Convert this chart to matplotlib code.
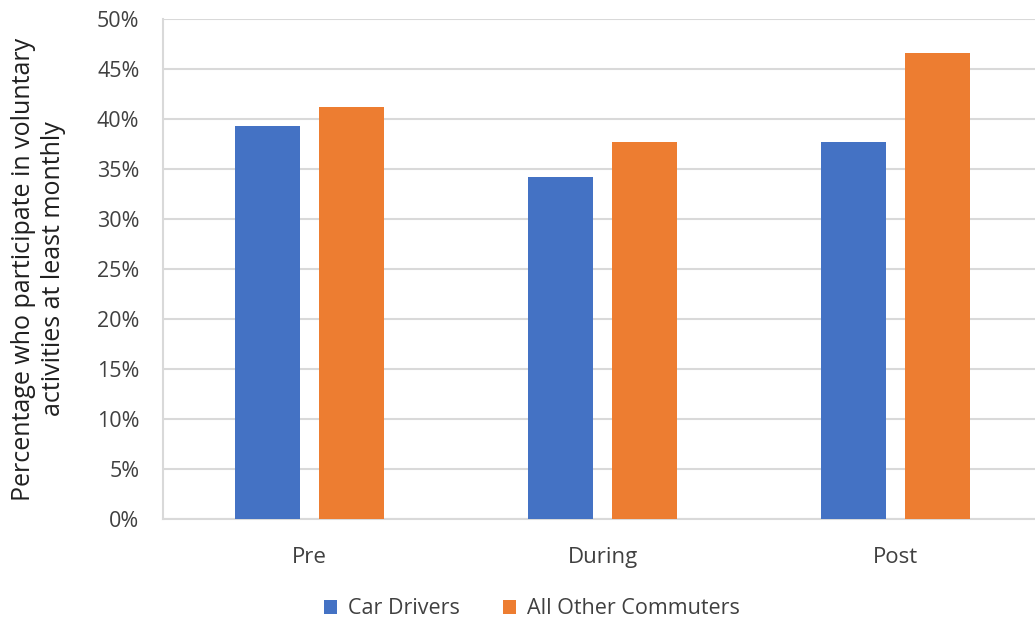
import numpy as np
import matplotlib.pyplot as plt
from matplotlib.ticker import PercentFormatter

plt.rcParams['font.family'] = ['Open Sans', 'DejaVu Sans']

periods = ['Pre', 'During', 'Post']
car_drivers = [39.3, 34.2, 37.7]
other_commuters = [41.2, 37.7, 46.6]

blue = '#4472c4'
orange = '#ed7d31'

fig = plt.figure(figsize=(10.35, 6.21), dpi=100)
ax = fig.add_axes([163 / 1035, 102 / 621, 879 / 1035, 500 / 621])

x = np.arange(len(periods))
w = 0.224
ax.bar(x - 0.143, car_drivers, w, color=blue, label='Car Drivers', zorder=3)
ax.bar(x + 0.143, other_commuters, w, color=orange, label='All Other Commuters', zorder=3)

ax.set_xlim(-0.5, 2.5)
ax.set_ylim(0, 50)
ax.set_yticks(np.arange(0, 51, 5))
ax.yaxis.set_major_formatter(PercentFormatter(decimals=0))
ax.set_xticks(x)
ax.set_xticklabels(periods)

ax.grid(axis='y', color='#d9d9d9', linewidth=1.5, zorder=0)
for s in ['top', 'right']:
    ax.spines[s].set_visible(False)
for s in ['left', 'bottom']:
    ax.spines[s].set_color('#d9d9d9')
    ax.spines[s].set_linewidth(1.5)
ax.tick_params(length=0, labelcolor='#404040')
ax.tick_params(axis='x', labelsize=16, pad=20)
ax.tick_params(axis='y', labelsize=15.5, pad=17)

ax.set_ylabel('Percentage who participate in voluntary\nactivities at least monthly',
              fontsize=18, color='#202020', labelpad=22, linespacing=1.3)

fig.legend(loc='center', bbox_to_anchor=(532 / 1035, 1 - 609 / 621), ncol=2,
           frameon=False, fontsize=15.5, handlelength=0.6, handleheight=0.6,
           columnspacing=2.0, handletextpad=0.5, labelcolor='#404040')

fig.savefig('out.png', dpi=100)
